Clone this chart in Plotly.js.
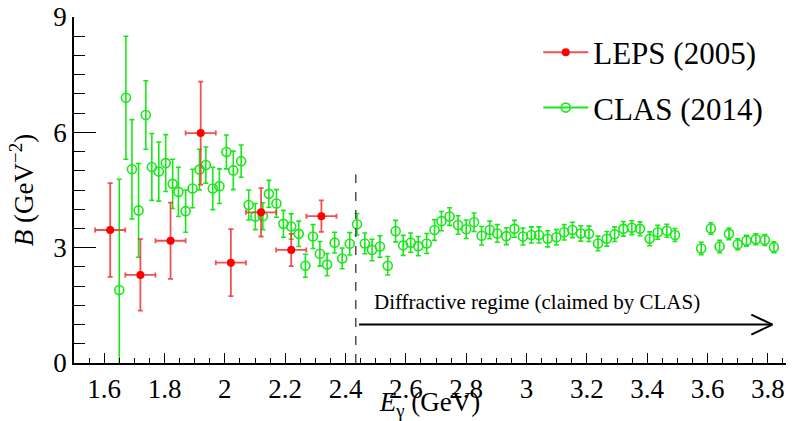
<!DOCTYPE html>
<html>
<head>
<meta charset="utf-8">
<script src="https://cdn.plot.ly/plotly-3.0.1.min.js"></script>
</head>
<body style="margin:0;background:#fff">
<div id="c"></div>
<script>
// LEPS (2005)
var lepsE    = [1.62, 1.72, 1.82, 1.92, 2.02, 2.12, 2.22, 2.32];
var lepsB    = [3.46, 2.29, 3.18, 5.98, 2.61, 3.92, 2.94, 3.82];
var lepsBErr = [1.22, 0.93, 0.99, 1.34, 0.87, 0.63, 0.42, 0.41];
var lepsEErr = [0.05, 0.05, 0.05, 0.05, 0.05, 0.05, 0.05, 0.05];

// CLAS (2014)
var clasE = [1.650,1.672,1.692,1.714,1.738,1.758,1.781,1.804,1.827,1.846,1.870,1.893,1.916,1.937,1.960,1.982,2.005,2.028,2.054,2.079,
  2.101,2.126,2.146,2.171,2.194,2.220,2.245,2.267,2.292,2.315,2.339,2.364,2.389,2.414,2.438,2.464,2.488,2.514,2.540,2.566,
  2.591,2.616,2.641,2.669,2.695,2.718,2.745,2.773,2.800,2.826,2.851,2.878,2.903,2.933,2.960,2.988,3.016,3.041,3.070,3.099,
  3.125,3.152,3.180,3.207,3.237,3.266,3.292,3.321,3.349,3.376,3.408,3.435,3.465,3.492,3.579,3.611,3.640,3.671,3.700,3.729,
  3.760,3.790,3.820];
var clasB = [1.90,6.90,5.04,3.97,6.45,5.10,4.98,5.20,4.66,4.45,3.95,4.54,5.03,5.15,4.54,4.60,5.49,5.01,5.25,4.11,
  3.81,3.82,4.40,4.15,3.62,3.55,3.36,2.53,3.29,2.84,2.56,3.13,2.72,3.10,3.61,3.11,2.94,3.03,2.53,3.43,
  3.06,3.13,3.04,3.11,3.46,3.69,3.81,3.59,3.48,3.66,3.31,3.46,3.37,3.30,3.49,3.29,3.33,3.33,3.23,3.27,
  3.40,3.46,3.37,3.36,3.11,3.23,3.35,3.49,3.52,3.49,3.23,3.40,3.44,3.33,2.98,3.50,3.03,3.36,3.09,3.18,
  3.22,3.20,3.01];
var clasBErr = [2.88,1.60,1.29,1.22,0.89,0.87,0.77,0.74,0.64,0.64,0.55,0.50,0.53,0.47,0.55,0.45,0.44,0.50,0.42,0.39,
  0.34,0.35,0.35,0.36,0.35,0.33,0.33,0.30,0.31,0.32,0.29,0.27,0.27,0.29,0.28,0.27,0.28,0.28,0.24,0.28,
  0.26,0.25,0.25,0.26,0.27,0.25,0.23,0.24,0.24,0.24,0.24,0.23,0.23,0.22,0.22,0.22,0.21,0.21,0.21,0.20,
  0.20,0.20,0.20,0.20,0.19,0.19,0.19,0.19,0.18,0.18,0.18,0.18,0.17,0.17,0.16,0.15,0.16,0.15,0.14,0.14,
  0.14,0.14,0.14];

var xTickVals = [1.6,1.8,2.0,2.2,2.4,2.6,2.8,3.0,3.2,3.4,3.6,3.8];
var xTickText = ['1.6','1.8','2','2.2','2.4','2.6','2.8','3','3.2','3.4','3.6','3.8'];
var yTickVals = [0,3,6,9];
var yTickText = ['0','3','6','9'];

var regimeStart = 2.434;
var regimeTop = 4.9;
var arrowStart = 2.445, arrowEnd = 3.815, arrowY = 1.0;

var redCol = '#ff0000', redBar = 'rgba(240,50,50,0.85)', greenCol = '#18e818';
var fam = 'Times New Roman';

var traces = [
  {x: clasE, y: clasB, type: 'scatter', mode: 'markers', showlegend: false,
   marker: {symbol: 'circle-open', size: 9, color: greenCol, line: {width: 1.6, color: greenCol}},
   error_y: {type: 'data', array: clasBErr, visible: true, color: greenCol, thickness: 1.6, width: 2.5}},
  {x: lepsE, y: lepsB, type: 'scatter', mode: 'markers', showlegend: false,
   marker: {symbol: 'circle', size: 8, color: redCol},
   error_y: {type: 'data', array: lepsBErr, visible: true, color: redBar, thickness: 1.8, width: 2.5},
   error_x: {type: 'data', array: lepsEErr, visible: true, color: redBar, thickness: 1.8, width: 2.5}},
  {x: [null], y: [null], type: 'scatter', mode: 'lines+markers', name: 'LEPS (2005)', legendgroup: 'a',
   line: {color: redBar, width: 2}, marker: {symbol: 'circle', size: 8, color: redCol}},
  {x: [null], y: [null], type: 'scatter', mode: 'lines+markers', name: 'CLAS (2014)', legendgroup: 'b',
   line: {color: greenCol, width: 2}, marker: {symbol: 'circle-open', size: 9, color: greenCol, line: {width: 1.6, color: greenCol}}}
];

var layout = {
  width: 795, height: 421,
  margin: {l: 74, r: 9, t: 17, b: 58},
  paper_bgcolor: '#fff', plot_bgcolor: '#fff',
  font: {family: fam, size: 26, color: '#000'},
  showlegend: true,
  legend: {x: 0.652, y: 0.975, xanchor: 'left', yanchor: 'top', bgcolor: 'rgba(0,0,0,0)',
           font: {family: fam, size: 31, color: '#000'}, tracegroupgap: 12, itemwidth: 45},
  xaxis: {range: [1.5, 3.86], showgrid: false, zeroline: false, showline: true, linecolor: '#000', linewidth: 1.5,
          tickmode: 'array', tickvals: xTickVals, ticktext: xTickText, ticks: 'inside', ticklen: 10, tickwidth: 1.2, tickcolor: '#000',
          minor: {dtick: 0.05, tick0: 1.5, ticks: 'inside', ticklen: 5, tickwidth: 1.2, tickcolor: '#000', showgrid: false},
          tickfont: {family: fam, size: 27, color: '#000'}, ticklabelstandoff: 1,
          title: {text: '<i>E</i><sub>&#947;</sub> (GeV)', font: {family: fam, size: 27, color: '#000'}, standoff: 3}},
  yaxis: {range: [0, 9], showgrid: false, zeroline: false, showline: true, linecolor: '#000', linewidth: 1.5,
          tickmode: 'array', tickvals: yTickVals, ticktext: yTickText, ticks: 'inside', ticklen: 22, tickwidth: 1.2, tickcolor: '#000',
          minor: {dtick: 0.5, tick0: 0, ticks: 'inside', ticklen: 11, tickwidth: 1.2, tickcolor: '#000', showgrid: false},
          tickfont: {family: fam, size: 27, color: '#000'},
          title: {text: '<i>B</i> (GeV<sup>&#8722;2</sup>)', font: {family: fam, size: 27, color: '#000'}, standoff: 12}},
  shapes: [
    {type: 'line', xref: 'x', yref: 'y', x0: regimeStart, x1: regimeStart, y0: 0, y1: regimeTop,
     line: {color: '#444', width: 1.4, dash: 'dash'}},
    {type: 'line', xref: 'x', yref: 'y', x0: arrowStart, x1: arrowEnd, y0: arrowY, y1: arrowY,
     line: {color: '#000', width: 2}},
    {type: 'line', xref: 'x', yref: 'y', x0: arrowEnd - 0.07, x1: arrowEnd, y0: arrowY + 0.26, y1: arrowY,
     line: {color: '#000', width: 2}},
    {type: 'line', xref: 'x', yref: 'y', x0: arrowEnd - 0.07, x1: arrowEnd, y0: arrowY - 0.26, y1: arrowY,
     line: {color: '#000', width: 2}}
  ],
  annotations: [
    {x: 2.487, y: 1.59, xref: 'x', yref: 'y', xanchor: 'left', yanchor: 'middle', showarrow: false,
     text: 'Diffractive regime (claimed by CLAS)', font: {family: fam, size: 21, color: '#000'}}
  ]
};

Plotly.newPlot('c', traces, layout, {displayModeBar: false});
</script>
</body>
</html>
